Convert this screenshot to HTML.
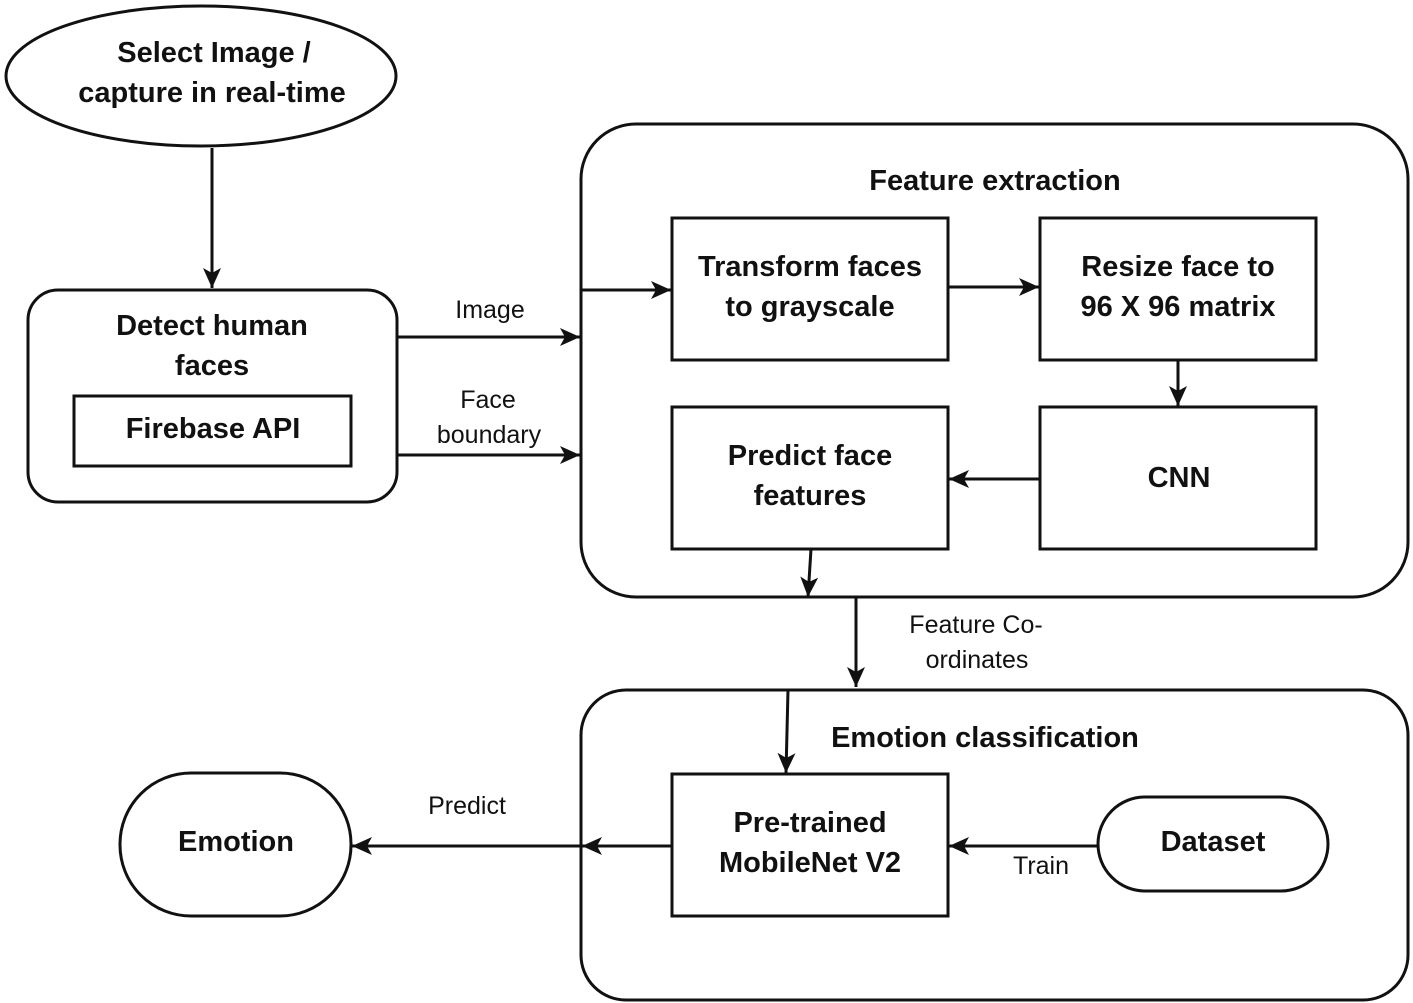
<!DOCTYPE html>
<html><head><meta charset="utf-8"><style>
html,body{margin:0;padding:0;background:#fff;}
svg{display:block;}
.b{font-family:"Liberation Sans",sans-serif;font-weight:bold;font-size:29px;fill:#111;text-anchor:middle;}
.r{font-family:"Liberation Sans",sans-serif;font-size:25px;fill:#111;text-anchor:middle;}
</style></head><body>
<svg width="1413" height="1003" viewBox="0 0 1413 1003" xmlns="http://www.w3.org/2000/svg">
<defs>
<marker id="a" markerWidth="22" markerHeight="18" refX="20" refY="9" orient="auto" markerUnits="userSpaceOnUse">
<path d="M0,0 L20,9 L0,18 L5,9 Z" fill="#111"/>
</marker>
</defs>
<g fill="none" stroke="#111" stroke-width="3">
<ellipse cx="201" cy="76" rx="195" ry="70"/>
<rect x="28" y="290" width="369" height="212" rx="30"/>
<rect x="74" y="396" width="277" height="70"/>
<rect x="581" y="124" width="827" height="473" rx="55"/>
<rect x="672" y="218" width="276" height="142"/>
<rect x="1040" y="218" width="276" height="142"/>
<rect x="1040" y="407" width="276" height="142"/>
<rect x="672" y="407" width="276" height="142"/>
<rect x="581" y="690" width="827" height="310" rx="45"/>
<rect x="672" y="774" width="276" height="142"/>
<rect x="1098" y="797" width="230" height="94" rx="47"/>
<rect x="120" y="773" width="231" height="143" rx="71"/>
</g>
<g stroke="#111" stroke-width="3" fill="none" marker-end="url(#a)">
<line x1="212" y1="148" x2="212" y2="288"/>
<line x1="397" y1="337" x2="580" y2="337"/>
<line x1="397" y1="455" x2="580" y2="455"/>
<line x1="581" y1="290" x2="671" y2="290"/>
<line x1="948" y1="287" x2="1039" y2="287"/>
<line x1="1178" y1="360" x2="1178" y2="406"/>
<line x1="1040" y1="479" x2="949" y2="479"/>
<line x1="811" y1="549" x2="808" y2="597"/>
<line x1="856" y1="597" x2="856" y2="687"/>
<line x1="788" y1="690" x2="786" y2="773"/>
<line x1="1098" y1="846" x2="949" y2="846"/>
<line x1="672" y1="846" x2="582" y2="846"/>
<line x1="581" y1="846" x2="352" y2="846"/>
</g>
<text class="b" x="214" y="62">Select Image /</text>
<text class="b" x="212" y="102">capture in real-time</text>
<text class="b" x="212" y="335">Detect human</text>
<text class="b" x="212" y="375">faces</text>
<text class="b" x="213" y="438">Firebase API</text>
<text class="r" x="490" y="318">Image</text>
<text class="r" x="488" y="408">Face</text>
<text class="r" x="489" y="443">boundary</text>
<text class="b" x="995" y="190">Feature extraction</text>
<text class="b" x="810" y="276">Transform faces</text>
<text class="b" x="810" y="316">to grayscale</text>
<text class="b" x="1178" y="276">Resize face to</text>
<text class="b" x="1178" y="316">96 X 96 matrix</text>
<text class="b" x="1179" y="487">CNN</text>
<text class="b" x="810" y="465">Predict face</text>
<text class="b" x="810" y="505">features</text>
<text class="r" x="976" y="633">Feature Co-</text>
<text class="r" x="977" y="668">ordinates</text>
<text class="b" x="985" y="747">Emotion classification</text>
<text class="b" x="810" y="832">Pre-trained</text>
<text class="b" x="810" y="872">MobileNet V2</text>
<text class="b" x="1213" y="851">Dataset</text>
<text class="r" x="1041" y="874">Train</text>
<text class="r" x="467" y="814">Predict</text>
<text class="b" x="236" y="851">Emotion</text>
</svg>
</body></html>
